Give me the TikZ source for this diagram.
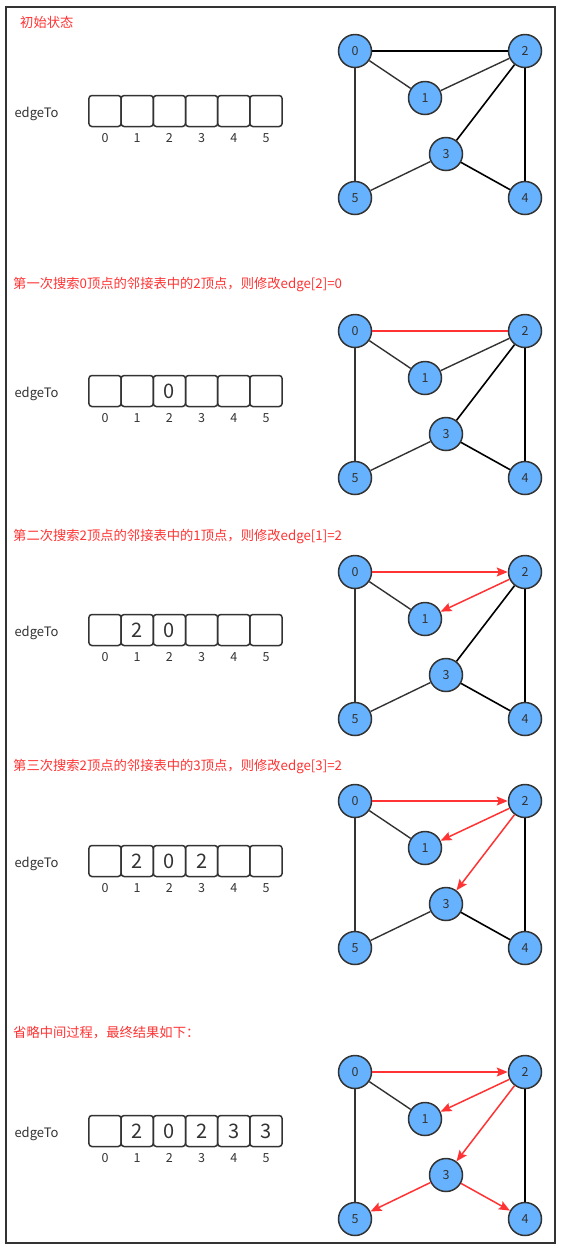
\documentclass[tikz,border=0pt]{standalone}
\usepackage{fontspec}
\setmainfont{Noto Sans CJK SC}
\usetikzlibrary{positioning,arrows.meta}
\definecolor{vtxblue}{RGB}{102,178,255}
\definecolor{edgegray}{RGB}{51,51,51}
\definecolor{hired}{RGB}{255,51,51}

\newcommand\stepgraph[3]{%
  \node[vtx] (#1-0) at (355,#2) {0};
  \node[vtx] (#1-2) at (525,#2) {2};
  \node[vtx] (#1-1) at (425,{#2+47}) {1};
  \node[vtx] (#1-3) at (446,{#2+103}) {3};
  \node[vtx] (#1-5) at (355,{#2+147}) {5};
  \node[vtx] (#1-4) at (525,{#2+147}) {4};
  \foreach \a/\b/\s in {#3} {\draw[\s] (#1-\a) -- (#1-\b);}
}
\newcommand\stepcells[3]{%
  \node[anchor=west,font=\fontsize{13}{15}\selectfont,text=edgegray] (#1-lbl) at (11,{#2+3}) {edgeTo};
  \foreach \v [count=\i from 0] in {#3} {
    \node[cell] (#1-c\i) at ({105+32.2*\i},#2) {\v};
    \node[idx,below=6pt of #1-c\i] (#1-i\i) {\i};
  }
}

\begin{document}
\begin{tikzpicture}[x=1pt,y=-1pt,
    vtx/.style={circle,draw=edgegray,line width=1.5pt,fill=vtxblue,minimum size=33pt,
      inner sep=0pt,text=edgegray,font=\fontsize{12.5}{14}\selectfont},
    cell/.style={draw=edgegray,line width=1.5pt,rounded corners=3pt,minimum width=32.2pt,
      minimum height=31pt,inner sep=0pt,text=edgegray,font=\fontsize{20}{22}\selectfont},
    idx/.style={inner sep=0pt,text=edgegray,font=\fontsize{12.5}{14}\selectfont},
    ttl/.style={anchor=west,inner sep=0pt,text=hired,font=\fontsize{13.3}{16}\selectfont},
    ln/.style={black,line width=1.6pt},
    lg/.style={edgegray,line width=1.4pt},
    rd/.style={hired,line width=1.5pt},
    arr/.style={hired,line width=1.5pt,-{Stealth[length=11pt,width=9pt,inset=2pt]}}]
  \useasboundingbox (0,0) rectangle (563,1251);
  \draw[edgegray,line width=1.5pt] (6,7) rectangle (555,1243);

  \node[ttl] (t1) at (20,22) {初始状态};
  \stepcells{a1}{111}{{},{},{},{},{},{}}
  \stepgraph{g1}{51}{0/2/ln,0/1/lg,1/2/lg,2/3/ln,2/4/ln,3/4/ln,3/5/lg,0/5/lg}

  \node[ttl] (t2) at (13,285) {第一次搜索0顶点的邻接表中的2顶点，则修改edge[2]=0};
  \stepcells{a2}{391}{{},{},0,{},{},{}}
  \stepgraph{g2}{331}{0/2/rd,0/1/lg,1/2/lg,2/3/ln,2/4/ln,3/4/ln,3/5/lg,0/5/lg}

  \node[ttl] (t3) at (13,537) {第二次搜索2顶点的邻接表中的1顶点，则修改edge[1]=2};
  \stepcells{a3}{630}{{},2,0,{},{},{}}
  \stepgraph{g3}{572}{0/2/arr,2/1/arr,0/1/lg,2/3/ln,2/4/ln,3/4/ln,3/5/lg,0/5/lg}

  \node[ttl] (t4) at (13,767) {第三次搜索2顶点的邻接表中的3顶点，则修改edge[3]=2};
  \stepcells{a4}{861}{{},2,0,2,{},{}}
  \stepgraph{g4}{801}{0/2/arr,2/1/arr,2/3/arr,0/1/lg,2/4/ln,3/4/ln,3/5/lg,0/5/lg}

  \node[ttl] (t5) at (13,1033) {省略中间过程，最终结果如下：};
  \stepcells{a5}{1131}{{},2,0,2,3,3}
  \stepgraph{g5}{1072}{0/2/arr,2/1/arr,2/3/arr,3/5/arr,3/4/arr,0/1/lg,2/4/ln,0/5/lg}
\end{tikzpicture}
\end{document}
